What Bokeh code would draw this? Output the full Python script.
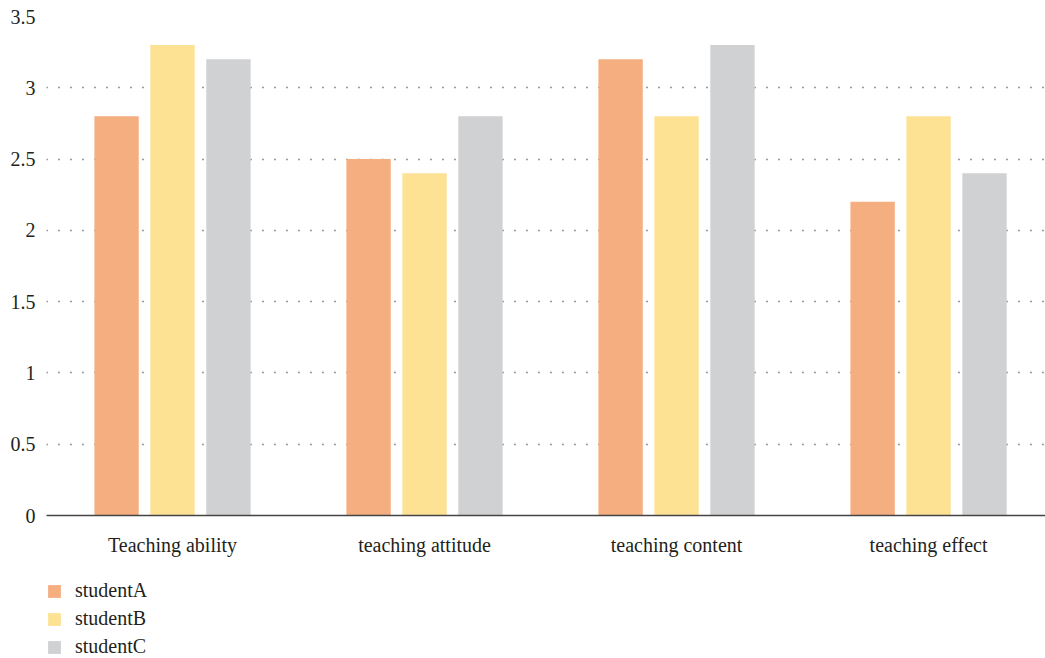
from bokeh.plotting import figure
from bokeh.layouts import column
from bokeh.models import FactorRange, FixedTicker, Legend, LegendItem, ColumnDataSource, Range1d
from bokeh.transform import dodge
from bokeh.embed import file_html
from bokeh.resources import INLINE

categories = ["Teaching ability", "teaching attitude", "teaching content", "teaching effect"]
series_names = ["studentA", "studentB", "studentC"]
studentA = [2.8, 2.5, 3.2, 2.2]
studentB = [3.3, 2.4, 2.8, 2.8]
studentC = [3.2, 2.8, 3.3, 2.4]
y_ticks = [0, 0.5, 1, 1.5, 2, 2.5, 3, 3.5]
y_tick_labels = ["0", "0.5", "1", "1.5", "2", "2.5", "3", "3.5"]
colors = ["#F5AE80", "#FDE294", "#D0D1D3"]

FONT = "Liberation Serif"
FS = "20px"
TXT = "#231f20"
W = 1045

# category positions on a numeric scale (category i centred at i + 0.5)
xpos = [i + 0.5 for i in range(len(categories))]
source = ColumnDataSource(dict(x=xpos, cat=categories, studentA=studentA, studentB=studentB, studentC=studentC))

p = figure(x_range=Range1d(0, len(categories) - 0.036), y_range=(0, 3.5),
           width=W, height=570, output_backend="svg", toolbar_location=None,
           min_border_left=46, min_border_top=16, min_border_right=0, min_border_bottom=55)
p.outline_line_color = None
p.background_fill_color = "white"

offsets = [-0.222, 0.0, 0.222]
for name, off, col in zip(series_names, offsets, colors):
    p.vbar(x=dodge("x", off), top=name, width=0.176, source=source,
           fill_color=col, line_color=None)

p.xgrid.grid_line_color = None
p.ygrid.grid_line_color = "#333333"
p.ygrid.grid_line_dash = "1 11"
p.ygrid.grid_line_width = 1.3
p.ygrid.ticker = FixedTicker(ticks=y_ticks)

p.yaxis.ticker = FixedTicker(ticks=y_ticks)
p.yaxis.major_label_overrides = {t: l for t, l in zip(y_ticks, y_tick_labels)}
p.yaxis.axis_line_color = None
p.yaxis.major_tick_line_color = None
p.yaxis.minor_tick_line_color = None
p.yaxis.major_label_standoff = 5
p.yaxis.major_label_text_font = FONT
p.yaxis.major_label_text_font_size = FS
p.yaxis.major_label_text_color = TXT

p.xaxis.ticker = FixedTicker(ticks=xpos)
p.xaxis.major_label_overrides = {x: c for x, c in zip(xpos, categories)}
p.xaxis.axis_line_color = "#444444"
p.xaxis.axis_line_width = 1.5
p.xaxis.major_tick_line_color = None
p.xaxis.minor_tick_line_color = None
p.xaxis.major_label_standoff = 12
p.xaxis.major_label_text_font = FONT
p.xaxis.major_label_text_font_size = FS
p.xaxis.major_label_text_color = TXT

# legend figure below the chart (bars kept outside its visible y range)
lg = figure(width=W, height=88, output_backend="svg", toolbar_location=None,
            x_axis_location=None, y_axis_location=None,
            min_border_left=0, min_border_top=0, min_border_right=0, min_border_bottom=0,
            x_range=FactorRange(*categories), y_range=(10, 11))
lg.outline_line_color = None
lg.xgrid.grid_line_color = None
lg.ygrid.grid_line_color = None
items = []
for name, col in zip(series_names, colors):
    r = lg.vbar(x="cat", top=name, width=0.1, source=source, fill_color=col, line_color=None)
    items.append(LegendItem(label=name, renderers=[r]))

legend = Legend(items=items, orientation="vertical", location=(0, 0), border_line_color=None,
                background_fill_alpha=0, glyph_width=16, glyph_height=16,
                label_text_font=FONT, label_text_font_size=FS, label_text_color=TXT,
                spacing=5, padding=0, margin=0, label_standoff=13)
lg.add_layout(legend, "center")

layout = column(p, lg, spacing=0)
open("out.html", "w").write(file_html(layout, INLINE))
